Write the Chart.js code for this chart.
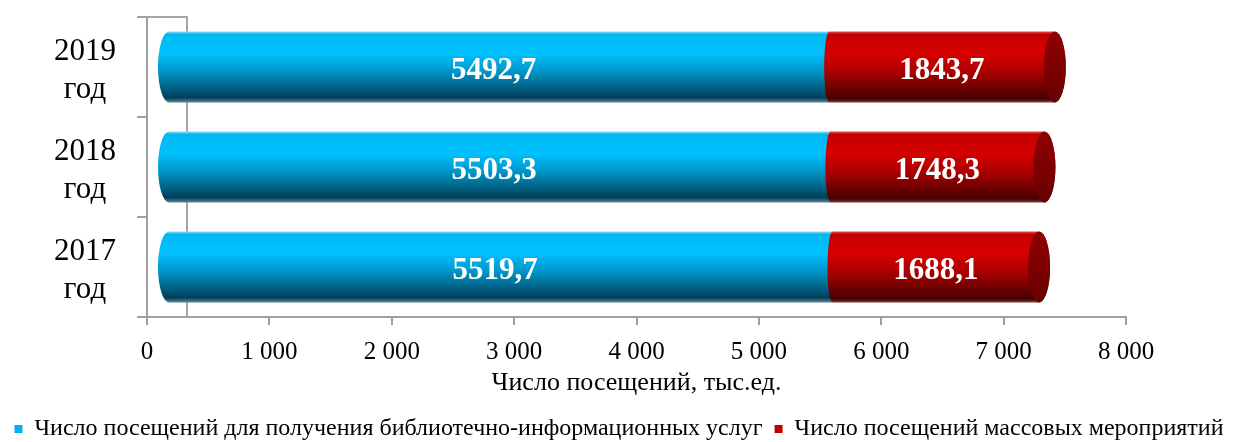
<!DOCTYPE html>
<html>
<head>
<meta charset="utf-8">
<script src="https://cdn.jsdelivr.net/npm/chart.js@4"></script>
<style>
  html, body { margin: 0; padding: 0; background: #fff; }
  #wrap { width: 1238px; height: 442px; }
</style>
</head>
<body>
<div id="wrap"><canvas id="grafico"></canvas></div>
<script>
// данные диаграммы
const years = [['2019', 'год'], ['2018', 'год'], ['2017', 'год']];
const infoVisits = [5492.7, 5503.3, 5519.7];   // библиотечно-информационные услуги
const eventVisits = [1843.7, 1748.3, 1688.1];  // массовые мероприятия
const xTicks = [0, 1000, 2000, 3000, 4000, 5000, 6000, 7000, 8000];
const seriesNames = [
  'Число посещений для получения библиотечно-информационных услуг',
  'Число посещений массовых мероприятий'
];
const axisTitle = 'Число посещений, тыс.ед.';

const FONT = "'Liberation Serif', 'Times New Roman', serif";
const DEPTH = 10; // сдвиг "3D"
const blueStops = [[0, '#9adcf0'], [0.04, '#00b8f0'], [0.3, '#00c2ff'], [0.55, '#0098cc'], [0.78, '#006488'], [0.93, '#003e58'], [1, '#5d8796']];
const redStops = [[0, '#e05050'], [0.04, '#c40000'], [0.3, '#d60000'], [0.55, '#b00000'], [0.8, '#6e0000'], [0.95, '#460000'], [1, '#7a4040']];

const fmt = v => v.toFixed(1).replace('.', ',');
const fmtTick = v => String(v).replace(/\B(?=(\d{3})+(?!\d))/g, ' ');

// стенка слева (3D)
const wallPlugin = {
  id: 'wall',
  beforeDatasetsDraw(chart) {
    const { ctx, chartArea: a } = chart;
    ctx.save();
    ctx.strokeStyle = '#a6a6a6';
    ctx.lineWidth = 2;
    ctx.beginPath();
    ctx.moveTo(a.left, a.top);
    ctx.lineTo(a.left + 40, a.top);
    ctx.lineTo(a.left + 40, a.bottom);
    ctx.stroke();
    ctx.restore();
  }
};

// цилиндры + подписи
const cylPlugin = {
  id: 'cyl',
  afterDatasetsDraw(chart) {
    const ctx = chart.ctx;
    const m0 = chart.getDatasetMeta(0), m1 = chart.getDatasetMeta(1);
    ctx.save();
    m0.data.forEach((bar, i) => {
      const b = bar.getProps(['x', 'y', 'base', 'height'], true);
      const r = m1.data[i].getProps(['x', 'y', 'base', 'height'], true);
      const top = b.y - b.height / 2, bottom = b.y + b.height / 2, ry = b.height / 2;
      const rx = 11;
      // синий
      let g = ctx.createLinearGradient(0, top, 0, bottom);
      blueStops.forEach(s => g.addColorStop(s[0], s[1]));
      const bx0 = b.base + DEPTH, bx1 = b.x + DEPTH;
      ctx.beginPath();
      ctx.moveTo(bx1, top);
      ctx.lineTo(bx0 + rx, top);
      ctx.ellipse(bx0 + rx, b.y, rx, ry, 0, -Math.PI / 2, Math.PI / 2, true);
      ctx.lineTo(bx1, bottom);
      ctx.closePath();
      ctx.fillStyle = g;
      ctx.fill();
      // красный
      g = ctx.createLinearGradient(0, top, 0, bottom);
      redStops.forEach(s => g.addColorStop(s[0], s[1]));
      const rx0 = r.base + DEPTH, rx1 = r.x + DEPTH;
      ctx.beginPath();
      ctx.moveTo(rx1, top);
      ctx.lineTo(rx0, top);
      ctx.ellipse(rx0, b.y, 5, ry, 0, -Math.PI / 2, Math.PI / 2, true);
      ctx.lineTo(rx1, bottom);
      ctx.ellipse(rx1, b.y, rx, ry, 0, Math.PI / 2, -Math.PI / 2, true);
      ctx.closePath();
      ctx.fillStyle = g;
      ctx.fill();
      // торец
      g = ctx.createLinearGradient(0, top, 0, bottom);
      g.addColorStop(0, '#900000');
      g.addColorStop(1, '#6a0000');
      ctx.beginPath();
      ctx.ellipse(rx1, b.y, rx, ry, 0, 0, Math.PI * 2);
      ctx.fillStyle = g;
      ctx.fill();
      // подписи
      ctx.fillStyle = '#fff';
      ctx.font = 'bold 31px ' + FONT;
      ctx.textAlign = 'center';
      ctx.textBaseline = 'middle';
      ctx.fillText(fmt(infoVisits[i]), (bx0 + bx1) / 2, b.y + 4);
      ctx.fillText(fmt(eventVisits[i]), (rx0 + rx1) / 2, b.y + 4);
    });
    ctx.restore();
  }
};

new Chart(document.getElementById('grafico'), {
  type: 'bar',
  data: {
    labels: years,
    datasets: [
      { label: seriesNames[0], data: infoVisits, backgroundColor: 'rgba(0,0,0,0)', legendColor: '#00b0f0' },
      { label: seriesNames[1], data: eventVisits, backgroundColor: 'rgba(0,0,0,0)', legendColor: '#c00000' }
    ]
  },
  options: {
    indexAxis: 'y',
    responsive: true,
    maintainAspectRatio: false,
    animation: false,
    barPercentage: 0.71,
    categoryPercentage: 1,
    layout: { padding: { top: 17, right: 0, left: 0, bottom: -9 } },
    plugins: {
      tooltip: { enabled: false },
      legend: {
        position: 'bottom',
        labels: {
          font: { family: FONT, size: 24 },
          color: '#000',
          boxWidth: 8,
          boxHeight: 8,
          padding: 12,
          generateLabels: chart => chart.data.datasets.map((d, i) => ({
            text: d.label, fillStyle: d.legendColor, strokeStyle: d.legendColor,
            lineWidth: 0, datasetIndex: i, hidden: false
          }))
        }
      }
    },
    scales: {
      x: {
        stacked: true,
        min: 0,
        max: 8000,
        afterBuildTicks: s => { s.ticks = xTicks.map(v => ({ value: v })); },
        afterFit: s => { s.height = 88; },
        grid: { drawOnChartArea: false, tickLength: 8, color: '#a0a0a0', lineWidth: 2 },
        border: { color: '#a0a0a0', width: 2 },
        ticks: {
          font: { family: FONT, size: 25 },
          color: '#000',
          padding: 12,
          maxRotation: 0,
          callback: v => fmtTick(v)
        },
        title: {
          display: true,
          text: axisTitle,
          font: { family: FONT, size: 26 },
          color: '#000',
          padding: { top: 0, bottom: 6 }
        }
      },
      y: {
        stacked: true,
        afterFit: s => { s.width = 147; s.paddingTop = 0; s.paddingBottom = 0; },
        grid: { drawOnChartArea: false, offset: true, tickLength: 10, color: '#a0a0a0', lineWidth: 2 },
        border: { color: '#a0a0a0', width: 2 },
        ticks: {
          autoSkip: false,
          font: { family: FONT, size: 31, lineHeight: 1.24 },
          color: '#000',
          crossAlign: 'center',
          labelOffset: 4,
          padding: 21
        }
      },
      yRight: {
        type: 'category',
        axis: 'y',
        position: 'right',
        afterFit: s => { s.width = 112; s.paddingTop = 0; s.paddingBottom = 0; },
        grid: { display: false },
        border: { display: false },
        ticks: { display: false }
      }
    }
  },
  plugins: [wallPlugin, cylPlugin]
});
</script>
</body>
</html>
